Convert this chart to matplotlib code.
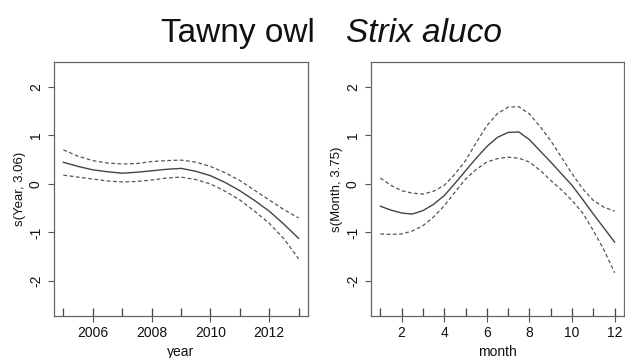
import numpy as np
import matplotlib
matplotlib.use("Agg")
import matplotlib.pyplot as plt

plt.rcParams['font.family'] = ['Liberation Sans', 'DejaVu Sans']
plt.rcParams['axes.unicode_minus'] = False

# year smooth
year = [2005, 2005.5, 2006, 2006.5, 2007, 2007.5, 2008, 2008.5, 2009,
        2009.5, 2010, 2010.5, 2011, 2011.5, 2012, 2012.5, 2013]
year_fit = [0.445, 0.36, 0.29, 0.25, 0.22, 0.24, 0.27, 0.30, 0.32,
            0.26, 0.17, 0.03, -0.14, -0.34, -0.56, -0.83, -1.12]
year_up = [0.70, 0.57, 0.48, 0.43, 0.41, 0.42, 0.46, 0.48, 0.49,
           0.45, 0.36, 0.23, 0.07, -0.13, -0.33, -0.53, -0.70]
year_lo = [0.18, 0.14, 0.10, 0.06, 0.04, 0.05, 0.08, 0.12, 0.14,
           0.09, 0.0, -0.15, -0.33, -0.56, -0.81, -1.13, -1.54]
year_rug = [2005, 2006, 2007, 2008, 2009, 2010, 2011, 2012, 2013]
year_ticks = [2006, 2008, 2010, 2012]

# month smooth
month = [1, 1.5, 2, 2.5, 3, 3.5, 4, 4.5, 5, 5.5, 6, 6.5, 7, 7.5, 8,
         8.5, 9, 9.5, 10, 10.5, 11, 11.5, 12]
month_fit = [-0.46, -0.54, -0.60, -0.62, -0.55, -0.42, -0.24, 0.01, 0.27,
             0.53, 0.77, 0.96, 1.06, 1.07, 0.91, 0.68, 0.45, 0.21, -0.03,
             -0.32, -0.62, -0.91, -1.20]
month_up = [0.12, -0.03, -0.14, -0.19, -0.21, -0.15, -0.03, 0.20, 0.48,
            0.85, 1.20, 1.45, 1.58, 1.59, 1.44, 1.18, 0.89, 0.55, 0.21,
            -0.10, -0.34, -0.48, -0.56]
month_lo = [-1.03, -1.04, -1.03, -0.97, -0.86, -0.68, -0.45, -0.17, 0.10,
            0.30, 0.45, 0.52, 0.55, 0.53, 0.45, 0.28, 0.07, -0.12, -0.34,
            -0.60, -0.96, -1.36, -1.83]
month_rug = list(range(1, 13))
month_ticks = [2, 4, 6, 8, 10, 12]

y_ticks = [-2, -1, 0, 1, 2]

fig = plt.figure(figsize=(6.25, 3.58), dpi=100)
ax1 = fig.add_axes([0.0864, 0.1173, 0.4064, 0.7095])
ax2 = fig.add_axes([0.5936, 0.1173, 0.4048, 0.7095])

panels = [
    (ax1, year, year_fit, year_up, year_lo, year_rug, year_ticks,
     (2004.68, 2013.32), 'year', 's(Year, 3.06)'),
    (ax2, month, month_fit, month_up, month_lo, month_rug, month_ticks,
     (0.56, 12.44), 'month', 's(Month, 3.75)'),
]

for ax, x, fit, up, lo, rug, xt, xl, xlab, ylab in panels:
    ax.plot(x, fit, color='#444444', lw=1.0)
    ax.plot(x, up, color='#555555', lw=0.9, ls=(0, (3, 2)))
    ax.plot(x, lo, color='#555555', lw=0.9, ls=(0, (3, 2)))
    # rug along the bottom
    ax.vlines(rug, 0, 0.032, transform=ax.get_xaxis_transform(),
              color='#444444', lw=0.9)
    ax.set_xlim(*xl)
    ax.set_ylim(-2.72, 2.51)
    ax.set_xticks(xt)
    ax.set_yticks(y_ticks)
    ax.set_yticklabels([str(v) for v in y_ticks], rotation=90, va='center')
    ax.tick_params(axis='both', direction='out', length=4, width=0.8,
                   color='#555555', labelsize=10, labelcolor='#111111')
    ax.tick_params(axis='x', pad=3)
    ax.tick_params(axis='y', pad=4)
    for sp in ax.spines.values():
        sp.set_color('#666666')
        sp.set_linewidth(0.9)
    ax.set_xlabel(xlab, fontsize=10, color='#111111', labelpad=4)
    ax.set_ylabel(ylab, fontsize=9.5, color='#111111', labelpad=2)

fig.text(0.504, 0.883, 'Tawny owl', ha='right', va='baseline',
         fontsize=24, color='#111111')
fig.text(0.554, 0.883, 'Strix aluco', ha='left', va='baseline',
         fontsize=24, style='italic', color='#111111')

fig.savefig('out.png', dpi=100)
